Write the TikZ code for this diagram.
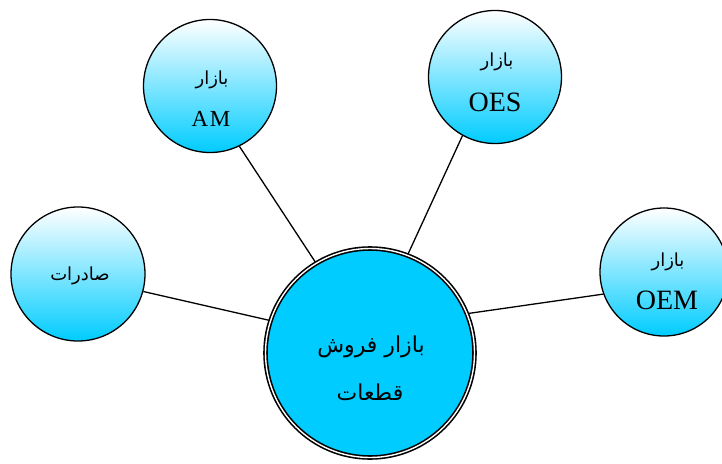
\documentclass[tikz,border=0pt]{standalone}
\usepackage{fontspec}
\setmainfont{Liberation Serif}
\newfontfamily\arabicfont[Script=Arabic]{DejaVu Sans}
\TeXXeTstate=1
\usetikzlibrary{backgrounds}
\definecolor{skyc}{RGB}{0,204,255}
\tikzset{
  sat/.style={circle, draw=black, line width=1.3pt, inner sep=0pt, top color=white, bottom color=skyc, shading angle=0},
  hub/.style={circle, draw=black, fill=skyc, line width=1.6pt, double=white, double distance=1.4pt, inner sep=0pt, minimum size=209pt},
  link/.style={draw=black, line width=1.3pt},
  fa/.style={inner sep=0pt, font=\arabicfont\fontsize{18}{22}\selectfont},
  faBig/.style={inner sep=0pt, font=\arabicfont\fontsize{22}{26}\selectfont},
  la/.style={inner sep=0pt, font=\fontsize{28}{32}\selectfont}
}
\begin{document}
\begin{tikzpicture}[x=1pt,y=-1pt]
\useasboundingbox (0,0) rectangle (722,463);
\node[hub] (c) at (370,353) {};
\node[sat, minimum size=133pt] (am) at (210,86) {};
\node[sat, minimum size=133pt] (oes) at (495,77) {};
\node[sat, minimum size=134pt] (sad) at (78,274) {};
\node[sat, minimum size=128pt] (oem) at (664,272) {};
\begin{pgfonlayer}{background}
\draw[link] (am.296) -- (c.121);
\draw[link] (oes.241) -- (c.69);
\draw[link] (sad.345) -- (c.162);
\draw[link] (oem.200) -- (c.22);
\end{pgfonlayer}
\node[fa] (amt1) at (212,80) {\beginR بازار\endR};
\node[inner sep=0pt, font=\fontsize{23}{26}\selectfont] (amt2) at (211,119) {A\kern1.5pt M};
\node[fa] (oest1) at (497,62) {\beginR بازار\endR};
\node[la] (oest2) at (495,102) {OES};
\node[fa] (sadt) at (80,276) {\beginR صادرات\endR};
\node[fa] (oemt1) at (668,262) {\beginR بازار\endR};
\node[la] (oemt2) at (667,300) {OEM};
\node[faBig] (ct1) at (371,347) {\beginR بازار فروش\endR};
\node[faBig] (ct2) at (370,392) {\beginR قطعات\endR};
\end{tikzpicture}
\end{document}
